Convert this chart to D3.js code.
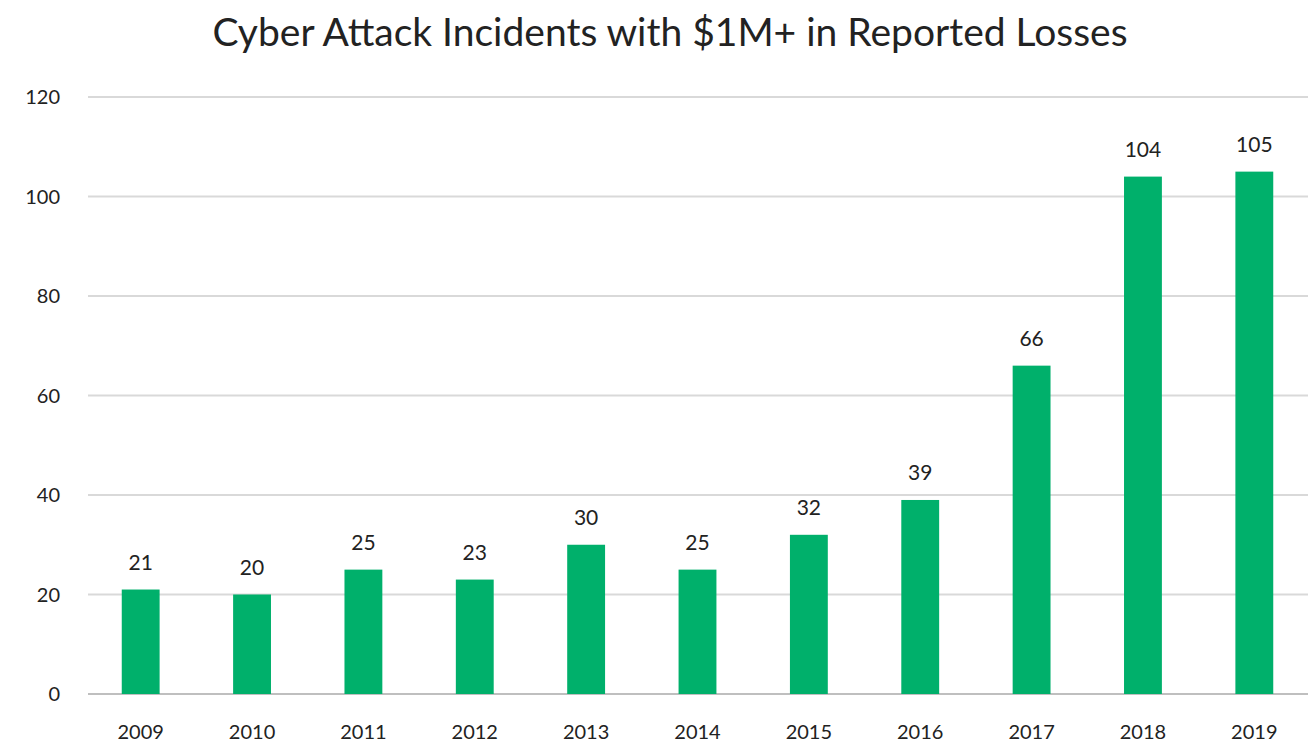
<!DOCTYPE html>
<html><head><meta charset="utf-8">
<script src="https://cdn.jsdelivr.net/npm/d3@7"></script>
<style>body{margin:0;background:#fff}text{font-family:Lato,"Open Sans",sans-serif}</style>
</head><body><svg id="chart" width="1308" height="754"></svg>
<script>
// data
var years = ["2009","2010","2011","2012","2013","2014","2015","2016","2017","2018","2019"];
var incidents = [21,20,25,23,30,25,32,39,66,104,105];
var yTicks = [0,20,40,60,80,100,120];

var svg = d3.select("#chart");
var x = d3.scaleBand().domain(years).range([85, 1310]).paddingInner(0.66).paddingOuter(0.33);
var y = d3.scaleLinear().domain([0, 120]).range([694, 97]);

// gridlines
svg.append("g").selectAll("line").data(yTicks).enter().append("line")
  .attr("x1", 88).attr("x2", 1308)
  .attr("y1", function(d){ return y(d); }).attr("y2", function(d){ return y(d); })
  .attr("stroke", function(d){ return d === 0 ? "#bfbfbf" : "#d9d9d9"; })
  .attr("stroke-width", 2);

// y labels
svg.append("g").selectAll("text").data(yTicks).enter().append("text")
  .attr("x", 60).attr("y", function(d){ return y(d) + 7; })
  .attr("text-anchor", "end").attr("font-size", 20).attr("fill", "#222")
  .text(function(d){ return d; });

// x labels
svg.append("g").selectAll("text").data(years).enter().append("text")
  .attr("x", function(d){ return x(d) + x.bandwidth()/2; }).attr("y", 739)
  .attr("text-anchor", "middle").attr("font-size", 20).attr("fill", "#222")
  .text(function(d){ return d; });

// bars
svg.append("g").selectAll("rect").data(incidents).enter().append("rect")
  .attr("x", function(d, i){ return x(years[i]); })
  .attr("width", x.bandwidth())
  .attr("y", function(d){ return y(d); })
  .attr("height", function(d){ return y(0) - y(d); })
  .attr("fill", "#00B06B");

// value labels
svg.append("g").selectAll("text").data(incidents).enter().append("text")
  .attr("x", function(d, i){ return x(years[i]) + x.bandwidth()/2; })
  .attr("y", function(d){ return y(d) - 20; })
  .attr("text-anchor", "middle").attr("font-size", 21).attr("fill", "#222")
  .text(function(d){ return d; });

// title
svg.append("text").attr("x", 670).attr("y", 46).attr("text-anchor", "middle")
  .attr("font-size", 39).attr("fill", "#222")
  .text("Cyber Attack Incidents with $1M+ in Reported Losses");
</script></body></html>
